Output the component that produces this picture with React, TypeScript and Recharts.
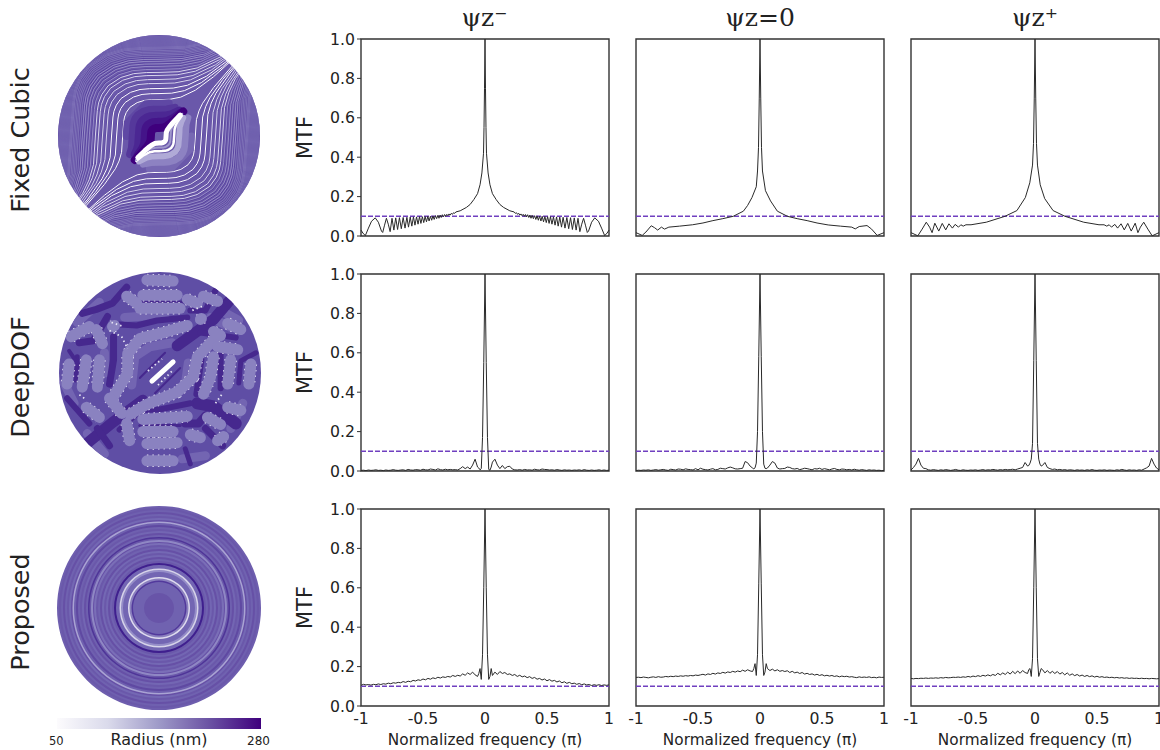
import { ComposedChart, Line, XAxis, YAxis, ReferenceLine, ReferenceArea, PieChart, Pie } from 'recharts'

// --- MTF curves ---

const panelTitles = ['ψz⁻', 'ψz=0', 'ψz⁺']
const rowNames = ['Fixed Cubic', 'DeepDOF', 'Proposed']
const xTicks = [-1, -0.5, 0, 0.5, 1]
const yTicks = [0, 0.2, 0.4, 0.6, 0.8, 1]

const cubicMinusFreq = [
  -1, -0.985, -0.965, -0.94, -0.915, -0.885, -0.86, -0.835, -0.825, -0.81, -0.795, -0.78, -0.765, -0.75, -0.735, -0.72,
  -0.705, -0.69, -0.675, -0.66, -0.645, -0.63, -0.617, -0.603, -0.59, -0.577, -0.565, -0.552, -0.54, -0.528, -0.517,
  -0.505, -0.494, -0.483, -0.472, -0.461, -0.451, -0.44, -0.43, -0.42, -0.41, -0.4, -0.39, -0.38, -0.371, -0.362,
  -0.353, -0.344, -0.335, -0.326, -0.317, -0.308, -0.299, -0.29, -0.281, -0.272, -0.263, -0.254, -0.245, -0.235,
  -0.2, -0.15, -0.12, -0.09, -0.06, -0.04, -0.025, -0.012, -0.008, -0.004, 0,
  0.004, 0.008, 0.012, 0.025, 0.04, 0.06, 0.09, 0.12, 0.15, 0.2,
  0.235, 0.245, 0.254, 0.263, 0.272, 0.281, 0.29, 0.299, 0.308, 0.317, 0.326, 0.335, 0.344, 0.353, 0.362, 0.371, 0.38,
  0.39, 0.4, 0.41, 0.42, 0.43, 0.44, 0.451, 0.461, 0.472, 0.483, 0.494, 0.505, 0.517, 0.528, 0.54, 0.552, 0.565, 0.577,
  0.59, 0.603, 0.617, 0.63, 0.645, 0.66, 0.675, 0.69, 0.705, 0.72, 0.735, 0.75, 0.765, 0.78, 0.795, 0.81, 0.825, 0.835,
  0.86, 0.885, 0.915, 0.94, 0.965, 0.985, 1,
]
const cubicMinusMtf = [
  0.03, 0.015, 0.002, 0.04, 0.075, 0.092, 0.07, 0.025, 0.018, 0.055, 0.09, 0.06, 0.022, 0.09, 0.03, 0.092,
  0.033, 0.093, 0.037, 0.094, 0.04, 0.095, 0.045, 0.096, 0.05, 0.097, 0.055, 0.097, 0.06, 0.098, 0.064,
  0.098, 0.068, 0.099, 0.072, 0.1, 0.076, 0.1, 0.08, 0.102, 0.084, 0.103, 0.088, 0.105, 0.09, 0.106,
  0.094, 0.108, 0.097, 0.109, 0.1, 0.11, 0.103, 0.112, 0.106, 0.115, 0.11, 0.118, 0.115, 0.122,
  0.128, 0.145, 0.16, 0.185, 0.215, 0.26, 0.32, 0.42, 0.55, 0.75, 1,
  0.75, 0.55, 0.42, 0.32, 0.26, 0.215, 0.185, 0.16, 0.145, 0.128,
  0.122, 0.115, 0.118, 0.11, 0.115, 0.106, 0.112, 0.103, 0.11, 0.1, 0.109, 0.097, 0.108, 0.094, 0.106, 0.09, 0.105,
  0.088, 0.103, 0.084, 0.102, 0.08, 0.1, 0.076, 0.1, 0.072, 0.099, 0.068, 0.098, 0.064, 0.098, 0.06, 0.097, 0.055, 0.097,
  0.05, 0.096, 0.045, 0.095, 0.04, 0.094, 0.037, 0.093, 0.033, 0.092, 0.03, 0.09, 0.022, 0.06, 0.09, 0.055, 0.018, 0.025,
  0.07, 0.092, 0.075, 0.04, 0.002, 0.015, 0.03,
]

const cubicZeroFreq = [
  -1, -0.95, -0.92, -0.877, -0.85, -0.825, -0.795, -0.77, -0.735, -0.65, -0.544, -0.46, -0.38, -0.3, -0.216, -0.134,
  -0.1, -0.065, -0.03, -0.02, -0.012, -0.006, 0, 0.006, 0.012, 0.02, 0.044, 0.085, 0.14, 0.221, 0.3, 0.38, 0.46, 0.55,
  0.65, 0.74, 0.768, 0.8, 0.863, 0.9, 0.945, 1,
]
const cubicZeroMtf = [
  0.017, 0.003, 0.02, 0.052, 0.042, 0.03, 0.045, 0.035, 0.045, 0.05, 0.057, 0.066, 0.078, 0.088, 0.1, 0.126,
  0.155, 0.195, 0.25, 0.33, 0.45, 0.7, 1, 0.7, 0.45, 0.33, 0.23, 0.178, 0.126, 0.1, 0.088, 0.078, 0.066, 0.056,
  0.05, 0.045, 0.036, 0.048, 0.053, 0.035, 0.003, 0.017,
]

const cubicPlusFreq = [
  -1, -0.945, -0.91, -0.877, -0.85, -0.83, -0.808, -0.776, -0.748, -0.72, -0.694, -0.666, -0.644, -0.617, -0.598, -0.579,
  -0.557, -0.516, -0.393, -0.242, -0.146, -0.078, -0.042, -0.02, -0.012, -0.006, 0, 0.006, 0.012, 0.02, 0.042, 0.078,
  0.146, 0.242, 0.393, 0.516, 0.557, 0.579, 0.598, 0.617, 0.644, 0.666, 0.694, 0.72, 0.748, 0.776, 0.808, 0.83, 0.85,
  0.877, 0.91, 0.945, 1,
]
const cubicPlusMtf = [
  0.017, 0.001, 0.035, 0.07, 0.045, 0.017, 0.065, 0.025, 0.064, 0.031, 0.062, 0.04, 0.059, 0.045, 0.057, 0.05,
  0.057, 0.057, 0.07, 0.1, 0.129, 0.195, 0.27, 0.36, 0.47, 0.7, 1, 0.7, 0.47, 0.36, 0.26, 0.19,
  0.129, 0.1, 0.07, 0.057, 0.057, 0.05, 0.057, 0.045, 0.059, 0.04, 0.062, 0.031, 0.064, 0.025, 0.065, 0.017, 0.045,
  0.07, 0.035, 0.001, 0.017,
]

const sharedFreq = [
  -1, -0.98, -0.96, -0.94, -0.92, -0.9, -0.88, -0.86,
  -0.84, -0.82, -0.8, -0.78, -0.76, -0.74, -0.72, -0.7,
  -0.68, -0.66, -0.64, -0.62, -0.6, -0.58, -0.56, -0.54,
  -0.52, -0.5, -0.48, -0.46, -0.44, -0.42, -0.4, -0.38,
  -0.36, -0.34, -0.32, -0.3, -0.28, -0.26, -0.24, -0.22,
  -0.2, -0.18, -0.16, -0.14, -0.12, -0.1, -0.08, -0.06,
  -0.05, -0.04, -0.03, -0.02, -0.01, 0, 0.01, 0.02, 0.03, 0.04, 0.05,
  0.06, 0.08, 0.1, 0.12, 0.14, 0.16, 0.18, 0.2,
  0.22, 0.24, 0.26, 0.28, 0.3, 0.32, 0.34, 0.36,
  0.38, 0.4, 0.42, 0.44, 0.46, 0.48, 0.5, 0.52,
  0.54, 0.56, 0.58, 0.6, 0.62, 0.64, 0.66, 0.68,
  0.7, 0.72, 0.74, 0.76, 0.78, 0.8, 0.82, 0.84,
  0.86, 0.88, 0.9, 0.92, 0.94, 0.96, 0.98, 1,
]

const deepMinusMtf = [
  0.003, 0.004, 0.002, 0.005, 0.003, 0.004, 0.006, 0.003,
  0.004, 0.002, 0.005, 0.003, 0.004, 0.007, 0.004, 0.003,
  0.005, 0.006, 0.003, 0.008, 0.005, 0.004, 0.007, 0.006,
  0.004, 0.009, 0.006, 0.005, 0.01, 0.008, 0.005, 0.011,
  0.007, 0.005, 0.009, 0.006, 0.008, 0.006, 0.007, 0.005,
  0.012, 0.022, 0.012, 0.02, 0.01, 0.03, 0.06, 0.02,
  0.015, 0.006, 0.012, 0.17, 0.55, 1, 0.55, 0.17, 0.008, 0.004, 0.02,
  0.045, 0.06, 0.03, 0.012, 0.028, 0.012, 0.022, 0.024,
  0.01, 0.006, 0.005, 0.007, 0.004, 0.008, 0.005, 0.006,
  0.004, 0.009, 0.006, 0.005, 0.01, 0.008, 0.007, 0.005,
  0.006, 0.004, 0.007, 0.005, 0.003, 0.006, 0.004, 0.005,
  0.003, 0.005, 0.004, 0.006, 0.003, 0.007, 0.004, 0.003,
  0.005, 0.003, 0.004, 0.006, 0.003, 0.005, 0.003, 0.004,
]
const deepZeroMtf = [
  0.002, 0.004, 0.003, 0.005, 0.004, 0.006, 0.003, 0.005,
  0.007, 0.004, 0.006, 0.008, 0.005, 0.003, 0.009, 0.007,
  0.005, 0.01, 0.009, 0.006, 0.011, 0.008, 0.007, 0.005,
  0.012, 0.006, 0.014, 0.009, 0.007, 0.005, 0.009, 0.012,
  0.006, 0.008, 0.014, 0.012, 0.01, 0.016, 0.02, 0.016,
  0.011, 0.01, 0.012, 0.014, 0.048, 0.042, 0.025, 0.015,
  0.011, 0.016, 0.04, 0.2, 0.58, 1, 0.58, 0.2, 0.035, 0.014, 0.012,
  0.015, 0.03, 0.048, 0.04, 0.015, 0.01, 0.012, 0.013,
  0.02, 0.018, 0.012, 0.01, 0.013, 0.007, 0.01, 0.014,
  0.012, 0.009, 0.006, 0.012, 0.01, 0.014, 0.008, 0.012,
  0.009, 0.006, 0.01, 0.013, 0.008, 0.006, 0.01, 0.009,
  0.006, 0.008, 0.005, 0.009, 0.006, 0.004, 0.007, 0.005,
  0.003, 0.006, 0.004, 0.005, 0.003, 0.004, 0.002, 0.003,
]
const deepPlusMtf = [
  0.005, 0.018, 0.035, 0.064, 0.03, 0.014, 0.012, 0.006,
  0.004, 0.007, 0.005, 0.003, 0.006, 0.004, 0.007, 0.005,
  0.003, 0.005, 0.008, 0.004, 0.003, 0.006, 0.004, 0.003,
  0.005, 0.004, 0.006, 0.003, 0.005, 0.007, 0.004, 0.006,
  0.005, 0.008, 0.006, 0.004, 0.007, 0.005, 0.008, 0.006,
  0.007, 0.009, 0.006, 0.01, 0.014, 0.018, 0.043, 0.025,
  0.028, 0.04, 0.06, 0.14, 0.56, 1, 0.56, 0.14, 0.06, 0.035, 0.025,
  0.028, 0.043, 0.018, 0.012, 0.008, 0.01, 0.006, 0.008,
  0.005, 0.007, 0.004, 0.006, 0.005, 0.003, 0.006, 0.004,
  0.005, 0.003, 0.006, 0.004, 0.007, 0.004, 0.003, 0.005,
  0.004, 0.006, 0.003, 0.005, 0.004, 0.003, 0.006, 0.004,
  0.008, 0.005, 0.003, 0.006, 0.004, 0.005, 0.003, 0.006,
  0.004, 0.01, 0.016, 0.025, 0.064, 0.035, 0.015, 0.006,
]

const propMinusMtf = [
  0.105, 0.11, 0.107, 0.109, 0.106, 0.11, 0.108, 0.112,
  0.109, 0.113, 0.111, 0.116, 0.113, 0.118, 0.116, 0.12,
  0.118, 0.124, 0.12, 0.126, 0.123, 0.13, 0.127, 0.133,
  0.13, 0.137, 0.133, 0.14, 0.136, 0.143, 0.139, 0.146,
  0.142, 0.148, 0.145, 0.15, 0.147, 0.155, 0.15, 0.156,
  0.152, 0.163, 0.156, 0.168, 0.16, 0.172, 0.158, 0.15,
  0.165, 0.19, 0.135, 0.26, 0.6, 1, 0.6, 0.26, 0.135, 0.15, 0.19,
  0.155, 0.172, 0.16, 0.175, 0.165, 0.17, 0.16, 0.163,
  0.155, 0.16, 0.15, 0.156, 0.148, 0.152, 0.144, 0.149,
  0.14, 0.145, 0.136, 0.14, 0.132, 0.137, 0.128, 0.134,
  0.126, 0.13, 0.122, 0.127, 0.118, 0.123, 0.115, 0.12,
  0.113, 0.116, 0.11, 0.114, 0.108, 0.112, 0.107, 0.109,
  0.104, 0.108, 0.105, 0.108, 0.104, 0.107, 0.105, 0.107,
]
const propZeroMtf = [
  0.145, 0.146, 0.144, 0.147, 0.145, 0.143, 0.146, 0.148,
  0.145, 0.149, 0.146, 0.147, 0.15, 0.148, 0.151, 0.149,
  0.152, 0.15, 0.153, 0.151, 0.154, 0.152, 0.155, 0.153,
  0.157, 0.155, 0.158, 0.161, 0.157, 0.163, 0.16, 0.166,
  0.162, 0.168, 0.165, 0.171, 0.167, 0.173, 0.17, 0.176,
  0.172, 0.178, 0.174, 0.182, 0.176, 0.184, 0.178, 0.175,
  0.19, 0.215, 0.155, 0.26, 0.62, 1, 0.62, 0.26, 0.155, 0.172, 0.215,
  0.19, 0.18, 0.187, 0.178, 0.184, 0.176, 0.18, 0.175,
  0.179, 0.17, 0.176, 0.168, 0.172, 0.165, 0.17, 0.162,
  0.166, 0.16, 0.163, 0.157, 0.161, 0.155, 0.159, 0.153,
  0.156, 0.152, 0.155, 0.15, 0.153, 0.148, 0.152, 0.149,
  0.151, 0.147, 0.149, 0.146, 0.144, 0.148, 0.145, 0.147,
  0.145, 0.148, 0.144, 0.146, 0.143, 0.147, 0.145, 0.146,
]
const propPlusMtf = [
  0.14, 0.138, 0.14, 0.139, 0.141, 0.14, 0.142, 0.14,
  0.142, 0.141, 0.143, 0.141, 0.144, 0.142, 0.145, 0.143,
  0.144, 0.146, 0.145, 0.147, 0.145, 0.148, 0.146, 0.15,
  0.147, 0.152, 0.149, 0.154, 0.15, 0.156, 0.152, 0.158,
  0.153, 0.16, 0.155, 0.166, 0.158, 0.168, 0.16, 0.172,
  0.162, 0.176, 0.164, 0.178, 0.166, 0.18, 0.17, 0.165,
  0.185, 0.19, 0.15, 0.24, 0.6, 1, 0.6, 0.24, 0.15, 0.17, 0.19,
  0.185, 0.168, 0.18, 0.166, 0.176, 0.165, 0.175, 0.162,
  0.17, 0.158, 0.168, 0.156, 0.163, 0.154, 0.16, 0.152,
  0.157, 0.15, 0.155, 0.149, 0.153, 0.147, 0.151, 0.146,
  0.149, 0.145, 0.147, 0.144, 0.146, 0.143, 0.145, 0.142,
  0.144, 0.141, 0.143, 0.14, 0.142, 0.14, 0.141, 0.139,
  0.141, 0.139, 0.14, 0.138, 0.14, 0.139, 0.138, 0.139,
]

// --- phase mask pictures ---

// one contour of the cubic mask; every other contour is this one scaled
const contourX = [-8, -5, -3, -2, -1.5, -1.2, -1.1, -1.03, -1, -0.97, -0.95, -0.9, -0.8, -0.6, -0.4, -0.2, 0, 0.3, 0.6, 1, 1.5, 2, 3, 5, 8]
const contourY = [-8, -4.99, -2.96, -1.91, -1.33, -0.9, -0.69, -0.45, 0, 0.4, 0.52, 0.65, 0.79, 0.92, 0.98, 0.997, 1, 1.01, 1.07, 1.26, 1.63, 2.08, 3.04, 5.01, 8]
const contourScales = [
  0.36, 0.42, 0.47, 0.52, 0.56, 0.6, 0.63, 0.66, 0.69, 0.715, 0.74, 0.76, 0.78, 0.8, 0.815, 0.83, 0.845, 0.86, 0.87, 0.88,
  0.89, 0.9, 0.91, 0.92, 0.93, 0.94, 0.95, 0.96, 0.97, 0.98, 0.99,
]
const upperBandScales = [0.32, 0.26, 0.2, 0.14, 0.08]
const upperBandColors = ['#5f48a4', '#55389b', '#4b2793', '#441489', '#3f007d']
const lowerBandScales = [0.32, 0.26, 0.2, 0.15, 0.115, 0.07]
const lowerBandColors = ['#7768b3', '#8d82c2', '#b0aad7', '#ffffff', '#9f97cc', '#ffffff']
const lowerBandWidths = [7, 7, 6, 2.5, 2, 5]

const deepDarkPaths = [
  [[-0.8, -0.76], [-0.47, -0.49], [-0.17, -0.27]],
  [[0.17, 0.27], [0.53, 0.53], [0.7, 0.73]],
  [[-0.4, 0.48], [-0.23, 0.47], [-0.03, 0.52], [0.27, 0.55]],
  [[-0.77, 0.59], [-0.63, 0.63], [-0.47, 0.69], [-0.33, 0.85]],
  [[0.37, -0.3], [0.53, -0.33], [0.75, -0.5]],
  [[0.3, -0.3], [0, -0.36], [-0.2, -0.37], [-0.4, -0.56]],
  [[-0.46, 0.36], [-0.46, 0.13], [-0.5, -0.11]],
  [[-0.82, 0.16], [-0.83, -0.07]],
  [[0.41, 0.13], [0.36, -0.21]],
  [[0.6, 0.22], [0.6, -0.15]],
  [[0.45, -0.55], [0.62, -0.72]],
  [[-0.62, -0.55], [-0.5, -0.72]],
  [[-0.2, -0.05], [0.05, 0.2]],
  [[-0.05, -0.2], [0.2, 0.05]],
  [[0.3, 0.62], [0.45, 0.62], [0.55, 0.82]],
  [[-0.92, -0.25], [-0.7, -0.5]],
  [[0.78, -0.1], [0.8, 0.12], [0.95, 0.2]],
  [[0.25, -0.75], [0.3, -0.9]],
  [[-0.52, 0.56], [-0.66, 0.32], [-0.8, 0.3]],
  [[-0.2, -0.52], [0.2, -0.52]],
  [[-0.25, 0.71], [0.25, 0.7]],
  [[0.4, 0.4], [0.75, 0.35]],
  [[-0.9, 0.22], [-0.75, 0.0]],
  [[0.45, -0.42], [0.38, -0.5], [0.25, -0.5]],
]
const deepDarkWidths = [11, 11, 6, 7, 12, 6, 7, 5, 6, 6, 7, 7, 2, 2, 6, 6, 5, 5, 7, 3, 3, 6, 4, 8]
const deepMidPaths = [
  [[-0.28, -0.12], [-0.25, 0.16], [-0.1, 0.26], [0.12, 0.3]],
  [[0.28, 0.1], [0.25, -0.12], [0.08, -0.24], [-0.12, -0.28]],
  [[-0.82, 0.5], [-0.6, 0.7]],
  [[-0.35, 0.55], [0.05, 0.58]],
  [[0.6, 0.62], [0.78, 0.52]],
  [[0.5, 0.55], [0.7, 0.45]],
  [[-0.72, -0.6], [-0.55, -0.8]],
  [[-0.95, -0.1], [-0.85, -0.3]],
  [[0.82, -0.3], [0.7, -0.55]],
  [[0.22, -0.85], [0.45, -0.82]],
  [[-0.55, 0.0], [-0.55, 0.2]],
]
const deepLightPaths = [
  [[-0.47, -0.25], [-0.32, 0], [-0.32, 0.19], [-0.2, 0.34], [0.07, 0.41], [0.27, 0.47]],
  [[0.53, 0.33], [0.37, 0.16], [0.33, -0.04], [0.17, -0.19], [-0.13, -0.31], [-0.3, -0.41]],
  [[-0.13, 0.92], [0.13, 0.91]],
  [[-0.17, 0.77], [0.17, 0.77]],
  [[-0.2, 0.64], [0.2, 0.64]],
  [[-0.88, 0.36], [-0.7, 0.46]],
  [[-0.63, 0.43], [-0.57, 0.29]],
  [[-0.47, 0.46], [-0.45, 0.47]],
  [[-0.33, 0.76], [-0.23, 0.69]],
  [[0.27, 0.73], [0.37, 0.69]],
  [[0.43, 0.76], [0.57, 0.71]],
  [[0.4, 0.53], [0.41, 0.54]],
  [[0.67, 0.49], [0.8, 0.43]],
  [[0.53, 0.41], [0.6, 0.37]],
  [[0.53, 0.16], [0.5, -0.04], [0.43, -0.21]],
  [[0.7, 0.13], [0.67, -0.11]],
  [[0.9, 0.09], [0.88, -0.11]],
  [[0.57, 0.26], [0.77, 0.23]],
  [[-0.9, 0.09], [-0.92, -0.11]],
  [[-0.73, 0.13], [-0.77, -0.14]],
  [[-0.6, 0.13], [-0.62, -0.14]],
  [[-0.73, -0.34], [-0.6, -0.44]],
  [[-0.17, -0.46], [0.27, -0.43]],
  [[-0.17, -0.58], [0.13, -0.58]],
  [[-0.13, -0.7], [0.17, -0.69]],
  [[-0.13, -0.87], [0.13, -0.87]],
  [[-0.33, -0.5], [-0.3, -0.67]],
  [[0.47, -0.44], [0.6, -0.51]],
  [[0.3, -0.61], [0.4, -0.64]],
  [[0.67, -0.34], [0.8, -0.37]],
  [[0.57, -0.67], [0.63, -0.63]],
  [[-0.5, -0.25], [-0.38, -0.4]],
]
const deepSpeckPaths = [
  [[-0.5, 0.42], [-0.38, 0.36], [-0.32, 0.24]],
  [[-0.48, 0.5], [-0.36, 0.46]],
  [[0.32, 0.62], [0.42, 0.66]],
  [[-0.75, -0.25], [-0.82, -0.2]],
  [[0.55, -0.3], [0.62, -0.2]],
  [[-0.12, 0.02], [0.02, 0.14]],
  [[-0.02, -0.12], [0.12, 0.02]],
]
const deepWhiteLens = [[-0.08, -0.08], [0.13, 0.11]]

const ringRadii = [
  1.2, 15, 26, 27.5, 29.5, 31, 36, 38, 39.5, 43, 45, 47, 49, 51, 53, 55, 57, 59, 61, 63, 65, 66, 68, 69.5, 71, 73, 75, 77,
  79, 81, 83, 85, 86.5, 88, 90, 92, 94, 96, 98, 100, 102,
]
const ringColors = [
  '#3f1a8c', '#6854a8', '#7062b0', '#52399c', '#8a7fbe', '#dedbee', '#7366b3', '#958dc8', '#d6d3e9', '#7366b3', '#3f1f8e',
  '#6a58aa', '#7062b0', '#6650a6', '#7366b3', '#6a58aa', '#7468b4', '#6650a6', '#7062b0', '#6a58aa', '#7a6eb7', '#6650a6',
  '#8f87c4', '#6a58aa', '#4f3598', '#6f60af', '#6650a6', '#7366b3', '#6a58aa', '#6f60af', '#5f49a2', '#6f60af', '#a9a3d3',
  '#6650a6', '#7468b4', '#6a58aa', '#7062b0', '#6650a6', '#6f60af', '#6a58aa', '#6e5eae',
]

const lineDark = '#2a2a2a'
const dashPurple = '#7040c0'

const plotW = 248
const colLefts = [360.5, 636, 911]
const rowTops = [38.5, 273.5, 508.5]
const plotH = 197

const toRows = (freq: number[], mtf: number[]) => freq.map((f, i) => ({ f, mtf: mtf[i] }))

const curves = [
  [toRows(cubicMinusFreq, cubicMinusMtf), toRows(cubicZeroFreq, cubicZeroMtf), toRows(cubicPlusFreq, cubicPlusMtf)],
  [toRows(sharedFreq, deepMinusMtf), toRows(sharedFreq, deepZeroMtf), toRows(sharedFreq, deepPlusMtf)],
  [toRows(sharedFreq, propMinusMtf), toRows(sharedFreq, propZeroMtf), toRows(sharedFreq, propPlusMtf)],
]

const sans = '"DejaVu Sans", Verdana, sans-serif'

function MtfPanel({ row, col }: { row: number; col: number }) {
  const showY = col === 0
  const showX = row === 2
  const leftSpace = showY ? 70 : 8
  const bottomSpace = showX ? 46 : 12
  const width = leftSpace + plotW + 8
  const height = 10 + plotH + bottomSpace
  return (
    <div style={{ position: 'absolute', left: colLefts[col] - leftSpace, top: rowTops[row] - 10 }}>
      <ComposedChart
        width={width}
        height={height}
        data={curves[row][col]}
        margin={{ top: 10, right: 8, bottom: showX ? 0 : 12, left: showY ? 0 : 8 }}
      >
        <XAxis
          dataKey="f"
          type="number"
          domain={[-1, 1]}
          ticks={xTicks}
          interval={0}
          hide={!showX}
          height={46}
          axisLine={false}
          tickLine={false}
          tickMargin={1}
          tick={{ fill: '#222', fontSize: 15.7, fontFamily: sans }}
          label={{ value: 'Normalized frequency (π)', position: 'insideBottom', offset: 7, fill: '#222', fontSize: 15.3, fontFamily: sans }}
        />
        <YAxis
          type="number"
          domain={[0, 1]}
          ticks={yTicks}
          interval={0}
          hide={!showY}
          width={70}
          axisLine={false}
          tickSize={4}
          tickLine={{ stroke: '#333' }}
          tickFormatter={(v: number) => v.toFixed(1)}
          tick={{ fill: '#222', fontSize: 15.7, fontFamily: sans }}
          label={{ value: 'MTF', angle: -90, position: 'insideLeft', offset: 14, fill: '#222', fontSize: 21, fontFamily: sans, style: { textAnchor: 'middle' } }}
        />
        <ReferenceLine y={0.1} stroke={dashPurple} strokeWidth={1.4} strokeDasharray="5 2" />
        <Line dataKey="mtf" type="linear" stroke={lineDark} strokeWidth={1} dot={false} isAnimationActive={false} />
        <ReferenceArea x1={-1} x2={1} y1={0} y2={1} fill="none" stroke="#333" strokeWidth={1.4} ifOverflow="visible" />
      </ComposedChart>
    </div>
  )
}

const toPath = (pts: number[][]) => pts.map(([x, y]) => ({ x, y }))
const scaledContour = (s: number) => contourX.map((x, i) => ({ x: s * x, y: s * contourY[i] }))
const flipped = (pts: { x: number; y: number }[]) => pts.map((p) => ({ x: -p.x, y: -p.y })).reverse()
const nearCentre = (pts: { x: number; y: number }[]) => pts.filter((p) => p.x * p.x + p.y * p.y < 0.12)

function maskLine(key: string, data: { x: number; y: number }[], stroke: string, width: number, dash?: string) {
  return (
    <Line
      key={key}
      data={data}
      dataKey="y"
      type="linear"
      stroke={stroke}
      strokeWidth={width}
      strokeDasharray={dash}
      strokeLinecap={dash ? 'butt' : 'round'}
      strokeLinejoin="round"
      dot={false}
      legendType="none"
      isAnimationActive={false}
    />
  )
}

function MaskFrame({ cx, cy, r, fill, blur, children }: { cx: number; cy: number; r: number; fill: string; blur: number; children: any }) {
  return (
    <div
      style={{
        position: 'absolute',
        left: cx - r,
        top: cy - r,
        width: 2 * r,
        height: 2 * r,
        borderRadius: '50%',
        overflow: 'hidden',
        background: fill,
        filter: `blur(${blur}px)`,
      }}
    >
      <ComposedChart width={2 * r} height={2 * r} margin={{ top: 0, right: 0, bottom: 0, left: 0 }}>
        <XAxis dataKey="x" type="number" domain={[-1, 1]} hide allowDataOverflow />
        <YAxis type="number" domain={[-1, 1]} hide allowDataOverflow />
        {children}
      </ComposedChart>
    </div>
  )
}

function CubicMask() {
  return (
    <MaskFrame cx={159} cy={136} r={101} fill="#6a58aa" blur={0.5}>
      {contourScales.flatMap((s, i) => {
        const light = i < 3 ? '#ffffff' : i < 7 ? '#d9d6ec' : i < 12 ? '#aaa3d4' : i < 20 ? '#8a80c0' : '#7d71b8'
        const dark = i < 12 ? '#4d3799' : '#5a459f'
        const up = scaledContour(s)
        const darker = scaledContour(s * 1.01)
        const w = i < 7 ? 1 : 0.7
        return [
          maskLine(`d${i}`, darker, dark, 0.7),
          maskLine(`l${i}`, up, light, w),
          maskLine(`nd${i}`, flipped(darker), dark, 0.7),
          maskLine(`nl${i}`, flipped(up), light, w),
        ]
      })}
      {upperBandScales.map((s, i) => maskLine(`ub${i}`, nearCentre(scaledContour(s)), upperBandColors[i], 8))}
      {lowerBandScales.map((s, i) =>
        maskLine(`lb${i}`, nearCentre(flipped(scaledContour(s))), lowerBandColors[i], lowerBandWidths[i]),
      )}
    </MaskFrame>
  )
}

function DeepMask() {
  return (
    <MaskFrame cx={160} cy={373} r={101} fill="#5f4ea5" blur={0.7}>
      {deepMidPaths.map((p, i) => maskLine(`m${i}`, toPath(p), '#7365b2', 9))}
      {deepDarkPaths.map((p, i) => maskLine(`k${i}`, toPath(p), '#46288e', deepDarkWidths[i]))}
      {deepLightPaths.map((p, i) => maskLine(`w${i}`, toPath(p), '#e6e4f3', 12.5, '1.5 4'))}
      {deepLightPaths.map((p, i) => maskLine(`f${i}`, toPath(p), '#8a82c0', 11))}
      {deepSpeckPaths.map((p, i) => maskLine(`s${i}`, toPath(p), '#e6e4f3', 1.8, '1.5 3'))}
      {maskLine('lens', toPath(deepWhiteLens), '#ffffff', 5)}
    </MaskFrame>
  )
}

function ProposedMask() {
  const size = 204
  return (
    <div style={{ position: 'absolute', left: 159 - size / 2, top: 607.5 - size / 2, filter: 'blur(0.4px)' }}>
      <PieChart width={size} height={size} margin={{ top: 0, right: 0, bottom: 0, left: 0 }}>
        {[...ringRadii].reverse().map((r, i) => (
          <Pie
            key={r}
            data={[{ v: 1 }]}
            dataKey="v"
            cx="50%"
            cy="50%"
            innerRadius={0}
            outerRadius={r}
            fill={[...ringColors].reverse()[i]}
            stroke="none"
            isAnimationActive={false}
          />
        ))}
      </PieChart>
    </div>
  )
}

const textBase = { position: 'absolute' as const, fontFamily: sans, color: '#222', whiteSpace: 'nowrap' as const }

export default function App() {
  return (
    <div style={{ position: 'absolute', left: 0, top: 0, width: 1160, height: 750, background: '#fff', overflow: 'hidden' }}>
      {panelTitles.map((t, i) => (
        <div
          key={t}
          style={{
            ...textBase,
            fontFamily: '"DejaVu Serif", serif',
            fontSize: 25,
            left: colLefts[i] + plotW / 2 - 60,
            width: 120,
            textAlign: 'center',
            top: 3,
          }}
        >
          {t}
        </div>
      ))}

      {rowNames.map((n, i) => (
        <div
          key={n}
          style={{
            ...textBase,
            fontSize: 25.5,
            left: 20,
            top: [140, 377, 612][i],
            transform: 'translate(-50%, -50%) rotate(-90deg)',
          }}
        >
          {n}
        </div>
      ))}

      <CubicMask />
      <DeepMask />
      <ProposedMask />

      <div
        style={{
          position: 'absolute',
          left: 57,
          top: 718,
          width: 204,
          height: 11,
          background: 'linear-gradient(to right, #fcfbfd, #dadaeb, #9e9ac8, #6a51a3, #3f007d)',
        }}
      />
      <div style={{ ...textBase, fontSize: 11.5, left: 49, top: 734 }}>50</div>
      <div style={{ ...textBase, fontSize: 16, left: 159, top: 729.5, transform: 'translateX(-50%)' }}>Radius (nm)</div>
      <div style={{ ...textBase, fontSize: 12, left: 247, top: 734 }}>280</div>

      {rowTops.map((_, row) =>
        colLefts.map((__, col) => <MtfPanel key={`${row}-${col}`} row={row} col={col} />),
      )}
    </div>
  )
}
